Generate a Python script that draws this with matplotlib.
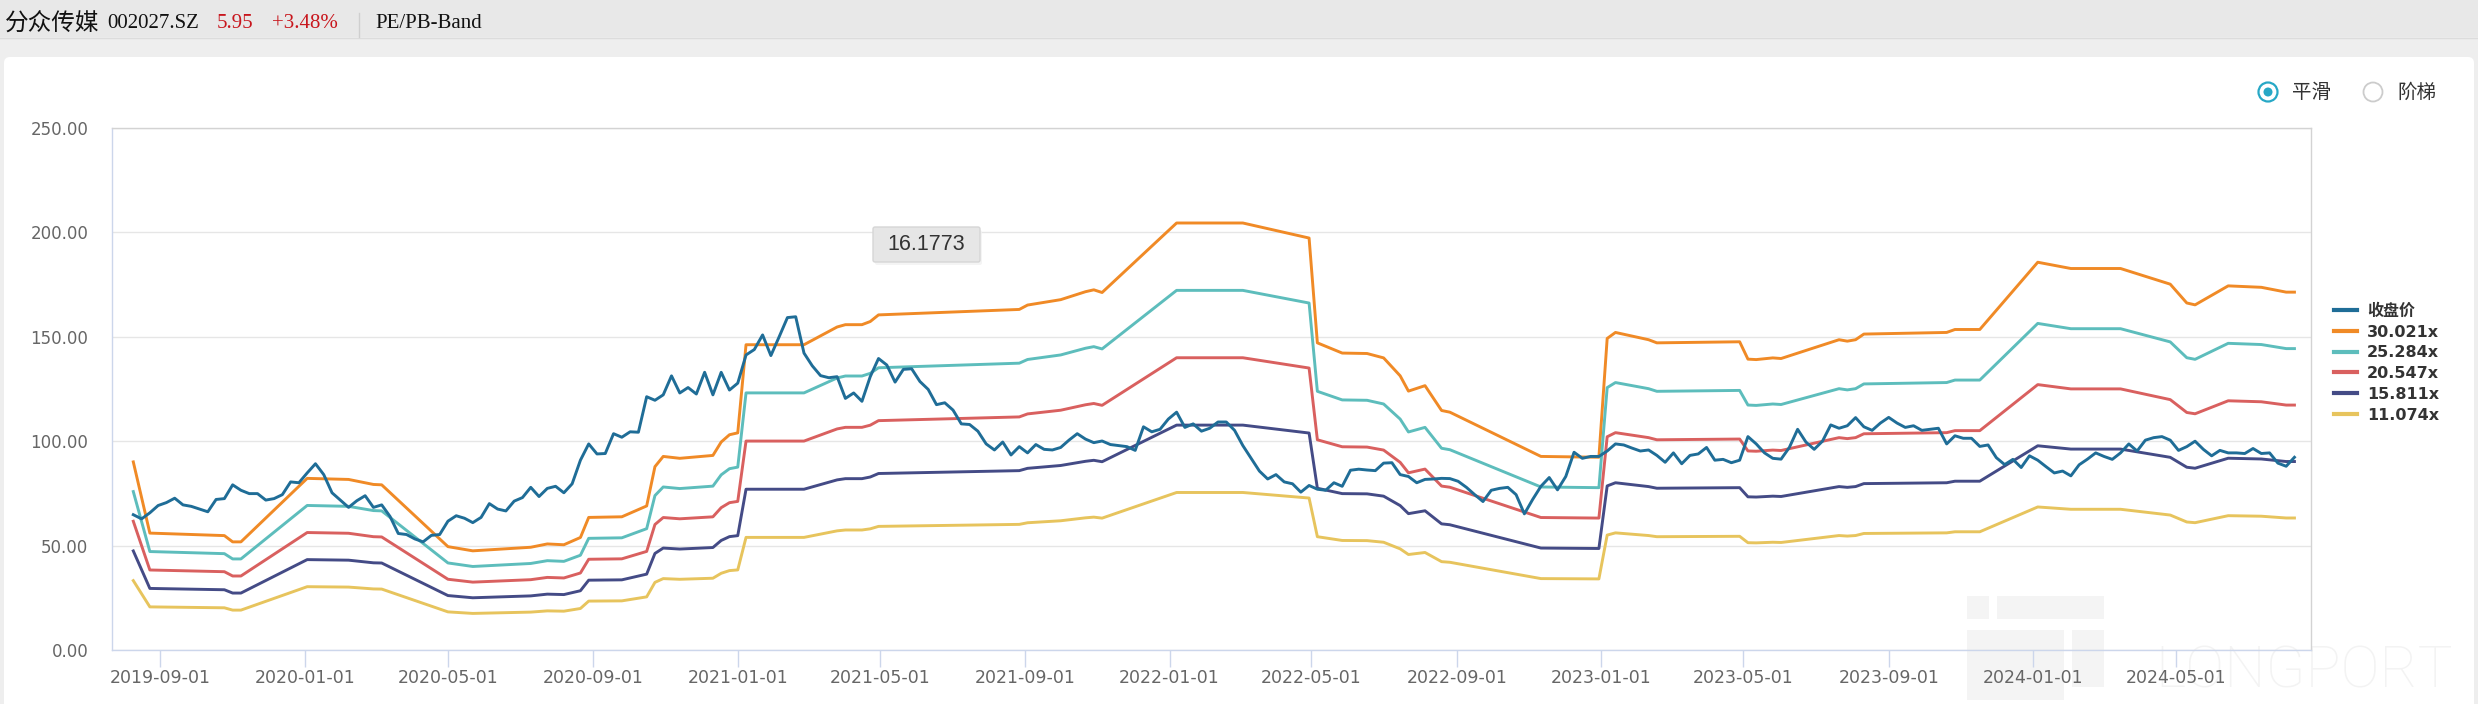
import matplotlib
matplotlib.use('Agg')
import matplotlib.pyplot as plt
import matplotlib.dates as mdates
from matplotlib.patches import Rectangle, Circle, FancyBboxPatch
from matplotlib.ticker import FixedLocator, FuncFormatter
import pandas as pd

# ---------------- data ----------------
stock_name = '分众传媒'
stock_code = '002027.SZ'
last_price = '5.95'
last_change = '+3.48%'
chart_title = 'PE/PB-Band'
tooltip_value = '16.1773'
radio_labels = ['平滑', '阶梯']

price_label = '收盘价'
band_multipliers = [30.021, 25.284, 20.547, 15.811, 11.074]
band_labels = ['30.021x', '25.284x', '20.547x', '15.811x', '11.074x']

price_start = '2019-08-09'   # weekly closes
close_price = [
    64.8, 62.8, 65.7, 69.2, 70.6, 72.7, 69.5, 68.8, 67.5, 66.2,
    72.1, 72.5, 79.1, 76.5, 74.9, 74.9, 71.8, 72.5, 74.4, 80.5,
    80.1, 84.8, 89.2, 84.0, 75.3, 71.8, 68.3, 71.5, 73.9, 68.3,
    69.5, 64.0, 55.8, 55.3, 53.2, 51.8, 54.9, 55.3, 61.7, 64.3,
    63.1, 61.0, 63.5, 70.1, 67.5, 66.6, 71.3, 73.0, 77.9, 73.5,
    77.4, 78.4, 75.3, 79.6, 90.9, 98.7, 93.9, 94.1, 103.6, 101.9,
    104.5, 104.3, 121.3, 119.6, 122.2,
    131.3, 123.1, 125.7, 122.6, 133.0, 122.2, 133.0, 124.5, 127.8, 141.3,
    143.9, 150.9, 141.0, 150.0, 159.2, 159.6, 142.2, 136.1, 131.4, 130.4,
    130.9, 120.5, 123.1, 119.1, 130.9, 139.6, 136.5, 128.3, 134.4, 134.7,
    128.6, 124.8, 117.5, 118.4, 114.9, 108.3, 108.0, 104.8, 98.7, 95.8,
    99.6, 93.4, 97.4, 94.4, 98.4, 96.1, 95.8, 97.0, 100.5, 103.6,
    101.0, 99.3, 100.1, 98.4, 97.9, 97.4, 95.6, 106.9, 104.5, 105.7,
    110.6, 113.9, 106.6, 108.3, 104.8,
    106.2, 109.2, 109.2, 105.2, 97.9, 91.8, 85.7, 81.9, 84.0, 80.5,
    79.6, 75.6, 78.8, 77.0, 76.5, 80.1, 78.4, 86.1, 86.6, 86.2,
    85.9, 89.5, 89.7, 84.0, 83.1, 80.1, 81.7, 81.9, 82.2, 82.1,
    80.8, 77.9, 74.4, 71.1, 76.5, 77.4, 77.9, 74.4, 65.2, 72.1,
    78.4, 82.6, 76.7, 83.1, 94.7, 91.8, 92.7, 92.7, 95.3, 98.7,
    98.2, 96.7, 95.3, 95.8, 93.2, 89.9, 94.4, 89.2, 93.2, 93.9,
    97.0, 90.9, 91.3, 89.7, 90.9,
    102.2, 98.7, 94.4, 91.8, 91.4, 97.0, 105.7, 99.6, 96.1, 100.0,
    107.8, 106.2, 107.4, 111.3, 106.9, 105.2, 108.7, 111.4, 108.7, 106.6,
    107.4, 105.2, 105.7, 106.2, 98.7, 102.6, 101.4, 101.4, 97.5, 98.2,
    92.1, 88.8, 91.3, 87.4, 93.0, 90.9, 87.8, 84.8, 85.7, 83.4,
    88.7, 91.4, 94.4, 92.7, 91.3, 94.4, 98.7, 95.3, 100.5, 101.7,
    102.2, 100.5, 95.6, 97.4, 100.0, 96.1, 93.0, 95.6, 94.4, 94.4,
    94.1, 96.5, 94.1, 94.4, 89.5, 88.0, 92.3,
]

# per-share earnings base of the bands (band = multiplier x eps)
eps_dates = [
    '2019-08-09', '2019-08-23', '2019-10-25', '2019-11-01', '2019-11-08',
    '2020-01-03', '2020-02-07', '2020-02-28', '2020-03-06', '2020-05-01',
    '2020-05-22', '2020-07-10', '2020-07-24', '2020-08-07', '2020-08-21',
    '2020-08-28', '2020-09-25', '2020-10-16', '2020-10-23', '2020-10-30',
    '2020-11-13', '2020-12-11', '2020-12-18', '2020-12-25', '2021-01-01',
    '2021-01-08', '2021-02-26', '2021-03-26', '2021-04-02', '2021-04-16',
    '2021-04-23', '2021-04-30', '2021-08-27', '2021-09-03', '2021-10-01',
    '2021-10-22', '2021-10-29', '2021-11-05', '2022-01-07', '2022-03-04',
    '2022-04-29', '2022-05-06', '2022-05-27', '2022-06-17', '2022-07-01',
    '2022-07-15', '2022-07-22', '2022-08-05', '2022-08-19', '2022-08-26',
    '2022-11-11', '2022-12-30', '2023-01-06', '2023-01-13', '2023-02-10',
    '2023-02-17', '2023-04-28', '2023-05-05', '2023-05-12', '2023-05-26',
    '2023-06-02', '2023-07-21', '2023-07-28', '2023-08-04', '2023-08-11',
    '2023-10-20', '2023-10-27', '2023-11-17', '2024-01-05', '2024-02-02',
    '2024-03-15', '2024-04-26', '2024-05-10', '2024-05-17', '2024-06-14',
    '2024-07-12', '2024-08-02', '2024-08-09',
]
eps_values = [
    3.001, 1.865, 1.825, 1.725, 1.725,
    2.738, 2.721, 2.641, 2.635, 1.649,
    1.582, 1.639, 1.692, 1.679, 1.795,
    2.115, 2.125, 2.298, 2.925, 3.088,
    3.058, 3.104, 3.318, 3.434, 3.464,
    4.870, 4.870, 5.153, 5.190, 5.190,
    5.240, 5.346, 5.433, 5.503, 5.589,
    5.716, 5.746, 5.703, 6.812, 6.812,
    6.572, 4.900, 4.737, 4.730, 4.660,
    4.374, 4.130, 4.217, 3.821, 3.794,
    3.088, 3.075, 4.970, 5.066, 4.950,
    4.900, 4.917, 4.640, 4.633, 4.660,
    4.650, 4.950, 4.927, 4.950, 5.040,
    5.066, 5.113, 5.113, 6.186, 6.086,
    6.086, 5.836, 5.536, 5.506, 5.809,
    5.786, 5.709, 5.709,
]

y_ticks = [0, 50, 100, 150, 200, 250]
x_tick_labels = ['2019-09-01', '2020-01-01', '2020-05-01', '2020-09-01',
                 '2021-01-01', '2021-05-01', '2021-09-01', '2022-01-01',
                 '2022-05-01', '2022-09-01', '2023-01-01', '2023-05-01',
                 '2023-09-01', '2024-01-01', '2024-05-01']
x_range = ['2019-07-22', '2024-08-23']

# ---------------- styles ----------------
price_color = '#1f6d97'
band_colors = ['#f08a26', '#5dbdbc', '#d9605f', '#444b86', '#e7c45d']
W, H = 2478, 704
CJK = ['Noto Sans CJK SC', 'DejaVu Sans']

fig = plt.figure(figsize=(W / 100, H / 100), dpi=100)
fig.patch.set_facecolor('#eeeeee')

# background layer (pixel coordinates)
bg = fig.add_axes([0, 0, 1, 1], zorder=0)
bg.set_xlim(0, W)
bg.set_ylim(H, 0)
bg.axis('off')
bg.add_patch(Rectangle((0, 0), W, 37, facecolor='#e8e8e8', edgecolor='none'))
bg.plot([0, W], [37.5, 37.5], color='#dcdcdc', lw=1)
bg.add_patch(FancyBboxPatch((4, 57), W - 8, H - 50, boxstyle='round,pad=0,rounding_size=6',
                            facecolor='white', edgecolor='none'))
# watermark
wm = '#f4f4f4'
bg.add_patch(Rectangle((1967, 596), 22, 23, facecolor=wm, edgecolor='none'))
bg.add_patch(Rectangle((1997, 596), 107, 23, facecolor=wm, edgecolor='none'))
bg.add_patch(Rectangle((1967, 630), 97, 70, facecolor=wm, edgecolor='none'))
bg.add_patch(Rectangle((2072, 630), 32, 57, facecolor=wm, edgecolor='none'))
bg.text(2155, 688, 'LONGPORT', fontsize=42, family='Roboto', weight='light', color='#f3f3f3',
        ha='left', va='baseline')

# header
ty = 24
bg.text(5, ty, stock_name, fontsize=17, family=CJK, color='#111111', va='center', ha='left')
bg.text(107, ty, stock_code, fontsize=15, family='Liberation Serif', color='#111111', va='center')
bg.text(217, ty, last_price, fontsize=15, family='Liberation Serif', color='#c8161d', va='center')
bg.text(272, ty, last_change, fontsize=15, family='Liberation Serif', color='#c8161d', va='center')
bg.plot([359, 359], [13, 37], color='#cfcfcf', lw=1)
bg.text(375, ty, chart_title, fontsize=15, family='Liberation Serif', color='#111111', va='center')

# ---------------- main chart ----------------
ax_left, ax_right, ax_top, ax_bot = 112, 2311, 128, 650
ax = fig.add_axes([ax_left / W, 1 - ax_bot / H, (ax_right - ax_left) / W, (ax_bot - ax_top) / H],
                  zorder=1)
ax.set_facecolor('none')

dates = pd.date_range(price_start, periods=len(close_price), freq='7D')
eps_idx = pd.to_datetime(eps_dates)

band_lines = []
for mult, lab, col in zip(band_multipliers, band_labels, band_colors):
    vals = [mult * e for e in eps_values]
    ln, = ax.plot(eps_idx, vals, color=col, lw=2.1, label=lab, solid_joinstyle='round', zorder=2)
    band_lines.append(ln)
price_line, = ax.plot(dates, close_price, color=price_color, lw=2.1, label=price_label,
                      solid_joinstyle='round', zorder=3)

ax.set_ylim(y_ticks[0], y_ticks[-1])
ax.set_xlim(pd.to_datetime(x_range[0]), pd.to_datetime(x_range[1]))
ax.yaxis.set_major_locator(FixedLocator(y_ticks))
ax.yaxis.set_major_formatter(FuncFormatter(lambda v, p: f'{v:.2f}'))
tick_dates = pd.to_datetime(x_tick_labels)
ax.set_xticks(mdates.date2num(tick_dates))
ax.set_xticklabels(x_tick_labels)
ax.grid(axis='y', color='#e6e6e6', lw=1)
ax.set_axisbelow(True)
for s in ['left', 'bottom']:
    ax.spines[s].set_color('#ccd6eb')
for s in ['top', 'right']:
    ax.spines[s].set_color('#d3d3d3')
for s in ax.spines.values():
    s.set_linewidth(1)
ax.tick_params(axis='x', length=12, width=1, color='#ccd6eb', labelsize=12.5,
               labelcolor='#666666', pad=2)
ax.tick_params(axis='y', length=0, labelsize=12, labelcolor='#666666', pad=17)

leg = fig.legend(handles=[price_line] + band_lines, loc='center left',
                 bbox_to_anchor=(2334 / W, 1 - 363 / H), frameon=False,
                 handlelength=1.45, handletextpad=0.6, labelspacing=0.36,
                 borderpad=0, borderaxespad=0,
                 prop={'family': ['DejaVu Sans', 'Noto Sans CJK SC'], 'size': 11.5, 'weight': 'bold'})
for t in leg.get_texts():
    t.set_color('#333333')
for l in leg.get_lines():
    l.set_linewidth(3)

# ---------------- overlay (radio buttons, tooltip) ----------------
ov = fig.add_axes([0, 0, 1, 1], zorder=5)
ov.set_xlim(0, W)
ov.set_ylim(H, 0)
ov.axis('off')
ov.set_facecolor('none')
ov.add_patch(Circle((2268, 92), 9.5, facecolor='white', edgecolor='#27a8c6', lw=1.6))
ov.add_patch(Circle((2268, 92), 4.5, facecolor='#27a8c6', edgecolor='none'))
ov.text(2292, 92, radio_labels[0], fontsize=14, family=CJK, color='#333333', va='center')
ov.add_patch(Circle((2373, 92), 9.5, facecolor='white', edgecolor='#cccccc', lw=1.3))
ov.text(2397, 92, radio_labels[1], fontsize=14, family=CJK, color='#333333', va='center')

ov.add_patch(FancyBboxPatch((875, 230), 107, 35, boxstyle='round,pad=0,rounding_size=2',
                            facecolor='#f2f2f2', edgecolor='none', alpha=0.8))
ov.add_patch(FancyBboxPatch((873, 227), 107, 35, boxstyle='round,pad=0,rounding_size=2',
                            facecolor='#e6e6e6', edgecolor='#d6d6d6', lw=1))
ov.text(926.5, 245, tooltip_value, fontsize=15.5, family='Liberation Sans', color='#333333',
        ha='center', va='center')

fig.savefig('out.png', dpi=100, facecolor=fig.get_facecolor())
